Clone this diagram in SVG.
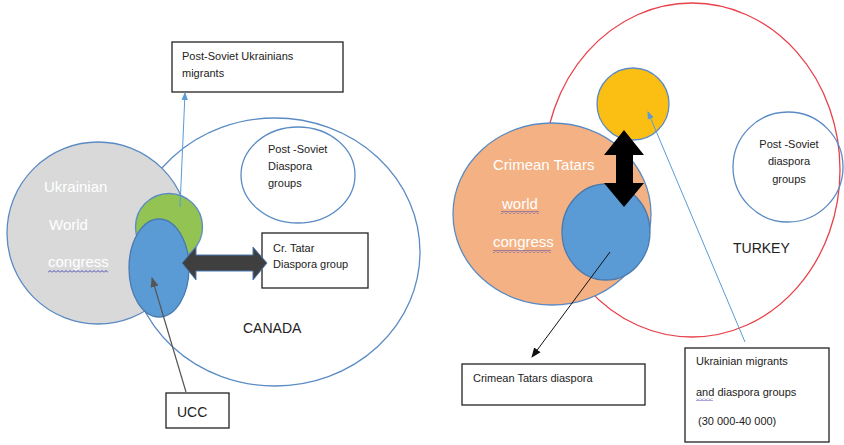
<svg xmlns="http://www.w3.org/2000/svg" width="844" height="445" viewBox="0 0 844 445">
<style>
.edge{fill:none;stroke:#5b8bc4;stroke-width:1.3}
.box{fill:#fff;stroke:#222;stroke-width:1.3}
.t{font-family:"Liberation Sans",Arial,sans-serif;font-size:11px;fill:#222}
.w{font-family:"Liberation Sans",Arial,sans-serif;font-size:15px;fill:#fff}
.lbl{font-family:"Liberation Sans",Arial,sans-serif;font-size:14px;fill:#222}
</style>
<defs>
<marker id="ab" markerWidth="8" markerHeight="8" refX="7" refY="4" orient="auto" markerUnits="userSpaceOnUse"><path d="M0,0.8 L8,4 L0,7.2 Z" fill="#5b9bd5"/></marker>
<marker id="ag" markerWidth="10" markerHeight="10" refX="9" refY="5" orient="auto" markerUnits="userSpaceOnUse"><path d="M0,1 L10,5 L0,9 Z" fill="#555"/></marker>
<marker id="ak" markerWidth="10" markerHeight="10" refX="9" refY="5" orient="auto" markerUnits="userSpaceOnUse"><path d="M0,1 L10,5 L0,9 Z" fill="#111"/></marker>
<pattern id="wave" width="4" height="3" patternUnits="userSpaceOnUse"><path d="M0 2.5 L2 0.5 L4 2.5" stroke="#3b3bb5" fill="none" stroke-width="0.9"/></pattern>
</defs>

<!-- Left diagram -->
<g id="canada"><ellipse cx="275" cy="252" rx="145" ry="134" class="edge" fill="#fff"/><text x="243" y="333" class="lbl">CANADA</text></g>
<g id="post-soviet-left"><ellipse cx="298" cy="175" rx="57" ry="48" class="edge"/>
<text x="268" y="153" class="t">Post -Soviet</text><text x="268" y="170" class="t">Diaspora</text><text x="268" y="187" class="t">groups</text></g>
<g id="ukrainian-world-congress"><circle cx="98" cy="233" r="91" fill="#d9d9d9" stroke="#5b8bc4" stroke-width="1.3"/>
<text x="44" y="192" class="w">Ukrainian</text><text x="49" y="230" class="w">World</text><text x="48" y="267" class="w">congress</text>
<rect x="48" y="270" width="60" height="3" fill="url(#wave)"/></g>
<g id="green"><circle cx="169" cy="227" r="33.5" fill="#92c353" stroke="#5b8bc4" stroke-width="1.3"/></g>
<g id="ucc-ellipse"><ellipse cx="159" cy="268" rx="30" ry="49" fill="#5b9bd5" stroke="#4a7ab0" stroke-width="1.3"/></g>
<g id="post-soviet-migrants"><rect x="172" y="42" width="171" height="50" class="box"/><text x="182" y="60" class="t">Post-Soviet Ukrainians</text><text x="182" y="77" class="t">migrants</text></g>
<g id="cr-tatar-left"><rect x="262" y="233" width="106" height="55" class="box"/><text x="273" y="252" class="t">Cr. Tatar</text><text x="273" y="268" class="t">Diaspora group</text></g>
<g id="ucc"><rect x="166" y="393" width="63" height="35" class="box"/><text x="177" y="417" class="lbl" font-size="13">UCC</text></g>

<!-- Right diagram -->
<g id="turkey"><ellipse cx="692" cy="170" rx="148" ry="167" fill="#fff" stroke="#e8414a" stroke-width="1.3"/><text x="733" y="253" class="lbl" font-size="13">TURKEY</text></g>
<g id="post-soviet-right"><circle cx="788" cy="167" r="55" class="edge" fill="#fff"/>
<text x="789" y="148" class="t" text-anchor="middle">Post -Soviet</text><text x="789" y="165" class="t" text-anchor="middle">diaspora</text><text x="789" y="183" class="t" text-anchor="middle">groups</text></g>
<g id="crimean-tatars-congress"><ellipse cx="552" cy="214" rx="99" ry="91" fill="#f4b183" stroke="#5b8bc4" stroke-width="1.3"/>
<text x="493" y="170" class="w" font-size="14.5">Crimean Tatars</text><text x="502" y="209" class="w" font-size="14.5">world</text><text x="493" y="247" class="w" font-size="14.5">congress</text>
<rect x="501" y="211" width="38" height="3" fill="url(#wave)"/><rect x="493" y="250" width="58" height="3" fill="url(#wave)"/></g>
<g id="ct-diaspora-circle"><ellipse cx="606" cy="232" rx="44" ry="48" fill="#5b9bd5" stroke="#4a7ab0" stroke-width="1.3"/></g>
<g id="yellow"><circle cx="633" cy="104" r="36" fill="#fbbf14" stroke="#5b8bc4" stroke-width="1.3"/></g>
<g id="ct-diaspora-box"><rect x="462" y="364" width="183" height="41" class="box"/><text x="473" y="382" class="t">Crimean Tatars diaspora</text></g>
<g id="ukr-migrants-box"><rect x="685" y="348" width="144" height="94" class="box"/>
<text x="696" y="365" class="t">Ukrainian migrants</text><text x="696" y="396" class="t">and diaspora groups</text><text x="698" y="425" class="t">(30 000-40 000)</text>
<rect x="696" y="398" width="17" height="3" fill="url(#wave)"/></g>

<g id="connectors">
<line x1="180" y1="207" x2="185" y2="93" stroke="#5b9bd5" stroke-width="1" marker-end="url(#ab)"/>
<line x1="186" y1="392" x2="152" y2="278" stroke="#555" stroke-width="1.2" marker-end="url(#ag)"/>
<polygon points="182,263 196,247 196,255 253,255 253,247 267,263 253,280 253,271 196,271 196,280" fill="#3f3f3f" stroke="#4a7ab0" stroke-width="1"/>
<polygon points="624,130 644,155 633,155 633,183 644,183 624,207 604,183 616,183 616,155 604,155" fill="#000"/>
<line x1="610" y1="252" x2="532" y2="357" stroke="#111" stroke-width="1" marker-end="url(#ak)"/>
<line x1="745" y1="342" x2="648" y2="112" stroke="#5b9bd5" stroke-width="1" marker-end="url(#ab)"/>
</g>
</svg>
